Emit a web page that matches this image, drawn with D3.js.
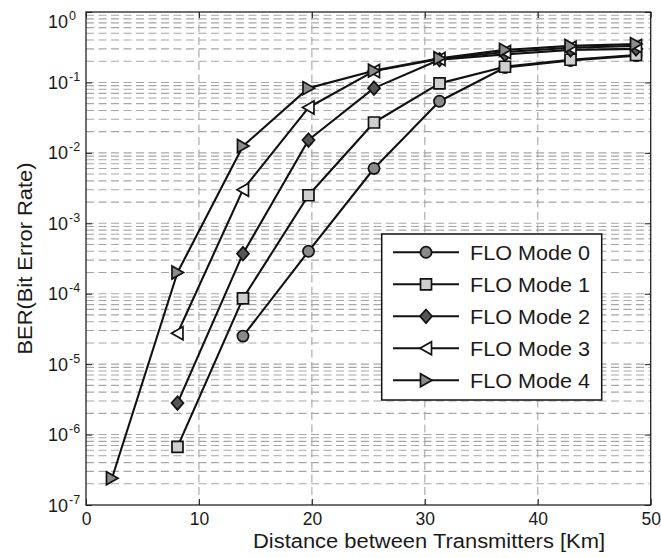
<!DOCTYPE html>
<html><head><meta charset="utf-8">
<script src="https://cdn.jsdelivr.net/npm/d3@7"></script>
<style>body{margin:0;background:#fff}</style>
</head><body><svg id="c" width="661" height="558"></svg>
<script>
// ---- data ----
const distances = [2.3, 8.1, 13.9, 19.7, 25.5, 31.3, 37.1, 42.9, 48.7];
const mode0 = [null, null, 2.5e-5, 4.0e-4, 6.0e-3, 5.4e-2, 0.163, 0.205, 0.24];
const mode1 = [null, 6.7e-7, 8.6e-5, 2.5e-3, 2.7e-2, 9.7e-2, 0.167, 0.21, 0.245];
const mode2 = [null, 2.8e-6, 3.7e-4, 1.52e-2, 8.3e-2, 0.21, 0.25, 0.29, 0.30];
const mode3 = [null, 2.75e-5, 3.0e-3, 4.4e-2, 0.145, 0.215, 0.27, 0.31, 0.33];
const mode4 = [2.4e-7, 2.0e-4, 1.25e-2, 8.3e-2, 0.147, 0.22, 0.29, 0.33, 0.35];
const seriesNames = ["FLO Mode 0", "FLO Mode 1", "FLO Mode 2", "FLO Mode 3", "FLO Mode 4"];
const xTicks = [0, 10, 20, 30, 40, 50];
const yTickExps = [0, -1, -2, -3, -4, -5, -6, -7];
const xLabel = "Distance between Transmitters [Km]";
const yLabel = "BER(Bit Error Rate)";

// ---- styles ----
const markerFill = ["#8a8a8a", "#cfcfcf", "#555555", "#ffffff", "#8a8a8a"];
const markerShape = ["circle", "square", "diamond", "left", "right"];
const FONT = "'Liberation Sans', Arial, Helvetica, sans-serif";

const svg = d3.select("#c");
const W = 661, H = 558;
const L = 86, T = 12, R = 650.7, B = 505;
const x = d3.scaleLinear().domain([0, 50]).range([L, R]);
const y = d3.scaleLog().domain([1e-7, 1]).range([B, T]);

svg.append("rect").attr("width", W).attr("height", H).attr("fill", "#fff");

// ---- grid ----
const grid = svg.append("g").attr("stroke", "#a6a6a6").attr("stroke-width", 1.1)
  .attr("stroke-dasharray", "8,4.5").attr("fill", "none");
const hVals = [];
for (let e = -7; e < 0; e++) for (let k = 1; k <= 9; k++) { const v = k * Math.pow(10, e); if (v > 1e-7) hVals.push(v); }
grid.selectAll("line.h").data(hVals.filter(v => v > 1e-7 && v < 1)).join("line").attr("class", "h")
  .attr("x1", L).attr("x2", R).attr("y1", d => y(d)).attr("y2", d => y(d));
grid.selectAll("line.v").data(xTicks.filter(t => t > 0 && t < 50)).join("line").attr("class", "v")
  .attr("y1", T).attr("y2", B).attr("x1", d => x(d)).attr("x2", d => x(d));

// ---- axes (ticks inward) ----
const axB = svg.append("g").attr("transform", `translate(0,${B})`)
  .call(d3.axisBottom(x).tickValues(xTicks).tickSize(-6).tickPadding(8).tickFormat(d3.format("d")));
const axT = svg.append("g").attr("transform", `translate(0,${T})`)
  .call(d3.axisTop(x).tickValues(xTicks).tickSize(-6).tickFormat(""));
const decades = yTickExps.map(e => Math.pow(10, e));
const axL = svg.append("g").attr("transform", `translate(${L},0)`)
  .call(d3.axisLeft(y).tickValues(decades).tickSize(-6).tickFormat(""));
const axR = svg.append("g").attr("transform", `translate(${R},0)`)
  .call(d3.axisRight(y).tickValues(decades).tickSize(-6).tickFormat(""));
[axB, axT, axL, axR].forEach(a => {
  a.select(".domain").remove();
  a.selectAll(".tick line").attr("stroke", "#222").attr("stroke-width", 1);
});
axB.selectAll(".tick text").attr("font-family", FONT).attr("font-size", 17.5).attr("fill", "#1a1a1a");

// frame
svg.append("rect").attr("x", L).attr("y", T).attr("width", R - L).attr("height", B - T)
  .attr("fill", "none").attr("stroke", "#222").attr("stroke-width", 1.3);

// y tick labels: 10^e
const yl = svg.append("g").attr("font-family", FONT).attr("fill", "#1a1a1a");
yTickExps.forEach(e => {
  const yy = y(Math.pow(10, e)) + (e === 0 ? 16 : 6.5);
  yl.append("text").attr("x", 68).attr("y", yy).attr("text-anchor", "end").attr("font-size", 18).text("10");
  yl.append("text").attr("x", 69).attr("y", yy - 8).attr("text-anchor", "start").attr("font-size", 12.5).text(String(e));
});

// axis titles
svg.append("text").attr("x", 429).attr("y", 548).attr("text-anchor", "middle")
  .attr("font-family", FONT).attr("font-size", 20).attr("fill", "#1a1a1a")
  .attr("textLength", 352).attr("lengthAdjust", "spacingAndGlyphs").text(xLabel);
svg.append("text").attr("transform", `translate(32,${(T + B) / 2}) rotate(-90)`).attr("text-anchor", "middle")
  .attr("font-family", FONT).attr("font-size", 21).attr("fill", "#1a1a1a")
  .attr("textLength", 192).attr("lengthAdjust", "spacingAndGlyphs").text(yLabel);

// ---- markers ----
function markerPath(shape) {
  switch (shape) {
    case "circle": return d3.symbol(d3.symbolCircle, Math.PI * 5.6 * 5.6)();
    case "square": return "M-5.5,-5.5H5.5V5.5H-5.5Z";
    case "diamond": return "M0,-6.8L6,0L0,6.8L-6,0Z";
    case "left": return "M-6,0L5.5,-6.5L5.5,6.5Z";
    case "right": return "M6,0L-5.5,-6.5L-5.5,6.5Z";
  }
}

// ---- series ----
const allSeries = [mode0, mode1, mode2, mode3, mode4];
const line = d3.line().defined(d => d[1] != null).x(d => x(d[0])).y(d => y(d[1]));
const plot = svg.append("g");
allSeries.forEach((vals, i) => {
  const pts = distances.map((d, j) => [d, vals[j]]);
  const g = plot.append("g");
  g.append("path").attr("d", line(pts)).attr("fill", "none").attr("stroke", "#111").attr("stroke-width", 2.1)
    .attr("stroke-linejoin", "round");
  g.selectAll("path.m").data(pts.filter(p => p[1] != null)).join("path").attr("class", "m")
    .attr("transform", p => `translate(${x(p[0])},${y(p[1])})`)
    .attr("d", markerPath(markerShape[i])).attr("fill", markerFill[i])
    .attr("stroke", "#111").attr("stroke-width", 1.7).attr("stroke-linejoin", "miter");
});

// ---- legend ----
const lg = svg.append("g");
lg.append("rect").attr("x", 381.7).attr("y", 234).attr("width", 220).attr("height", 166)
  .attr("fill", "#fff").attr("stroke", "#111").attr("stroke-width", 1.5);
seriesNames.forEach((name, i) => {
  const yy = 252.3 + i * 32;
  lg.append("line").attr("x1", 393).attr("x2", 459).attr("y1", yy).attr("y2", yy)
    .attr("stroke", "#111").attr("stroke-width", 2.1);
  lg.append("path").attr("transform", `translate(426,${yy})`).attr("d", markerPath(markerShape[i]))
    .attr("fill", markerFill[i]).attr("stroke", "#111").attr("stroke-width", 1.7);
  lg.append("text").attr("x", 470).attr("y", yy + 7.5).attr("font-family", FONT).attr("font-size", 21)
    .attr("fill", "#1a1a1a").attr("textLength", 120).attr("lengthAdjust", "spacingAndGlyphs").text(name);
});
</script></body></html>
